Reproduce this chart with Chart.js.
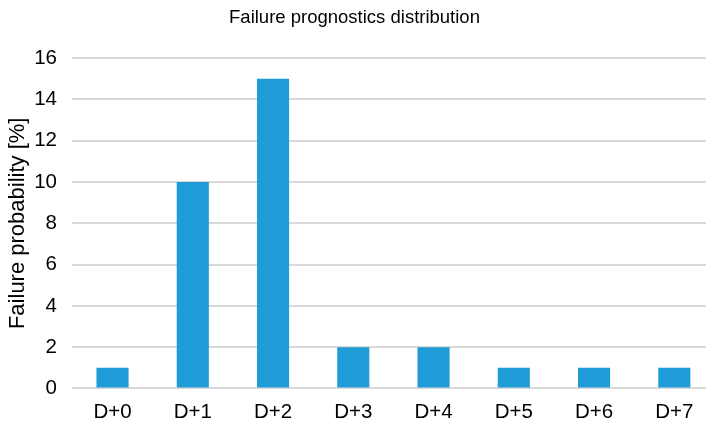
<!DOCTYPE html>
<html>
<head>
<meta charset="utf-8">
<script src="https://cdn.jsdelivr.net/npm/chart.js@4.4.0/dist/chart.umd.min.js"></script>
<style>
  html, body { margin: 0; padding: 0; background: #fff; }
  #wrap { width: 706px; height: 428px; overflow: hidden; }
</style>
</head>
<body>
<div id="wrap"><canvas id="prognosticsChart" width="706" height="428"></canvas></div>
<script>
// Categories and values
const days = ['D+0', 'D+1', 'D+2', 'D+3', 'D+4', 'D+5', 'D+6', 'D+7'];
const failureProbability = [1, 10, 15, 2, 2, 1, 1, 1];
const yTicks = [0, 2, 4, 6, 8, 10, 12, 14, 16];

const fontFamily = 'Liberation Sans, Arial, sans-serif';

const ctx = document.getElementById('prognosticsChart').getContext('2d');
new Chart(ctx, {
    type: 'bar',
    data: {
        labels: days,
        datasets: [{
            label: 'Failure probability',
            data: failureProbability,
            backgroundColor: '#1f9bd7',
            borderWidth: 0,
            categoryPercentage: 0.8,
            barPercentage: 0.5
        }]
    },
    options: {
        responsive: false,
        animation: false,
        layout: {
            padding: { left: 3, right: 0, top: 0, bottom: -8 }
        },
        plugins: {
            legend: { display: false },
            tooltip: { enabled: false },
            title: {
                display: true,
                text: 'Failure prognostics distribution',
                color: '#000',
                font: { family: fontFamily, size: 18.5, weight: 'normal' },
                padding: { top: 7, bottom: 29 }
            }
        },
        scales: {
            x: {
                // the original plot runs a bit past the right edge of the picture,
                // so the categories are spaced slightly wider than the visible area
                afterBuildTicks: (axis) => {
                    axis._startValue = -0.505;
                    axis._valueRange = 7.9;
                },
                grid: { display: false, drawTicks: false },
                border: { display: false },
                ticks: {
                    color: '#000',
                    font: { family: fontFamily, size: 20.5 },
                    padding: 11.5,
                    maxRotation: 0
                }
            },
            y: {
                min: 0,
                max: 16,
                afterBuildTicks: (axis) => { axis.ticks = yTicks.map(v => ({ value: v })); },
                grid: {
                    color: '#d9d9d9',
                    lineWidth: 2,
                    drawTicks: false
                },
                border: { display: false },
                ticks: {
                    color: '#000',
                    font: { family: fontFamily, size: 20.5 },
                    padding: 15
                },
                title: {
                    display: true,
                    text: 'Failure probability [%]',
                    color: '#000',
                    font: { family: fontFamily, size: 22 },
                    padding: { top: 1.3, bottom: -11.5 }
                }
            }
        }
    }
});
</script>
</body>
</html>
